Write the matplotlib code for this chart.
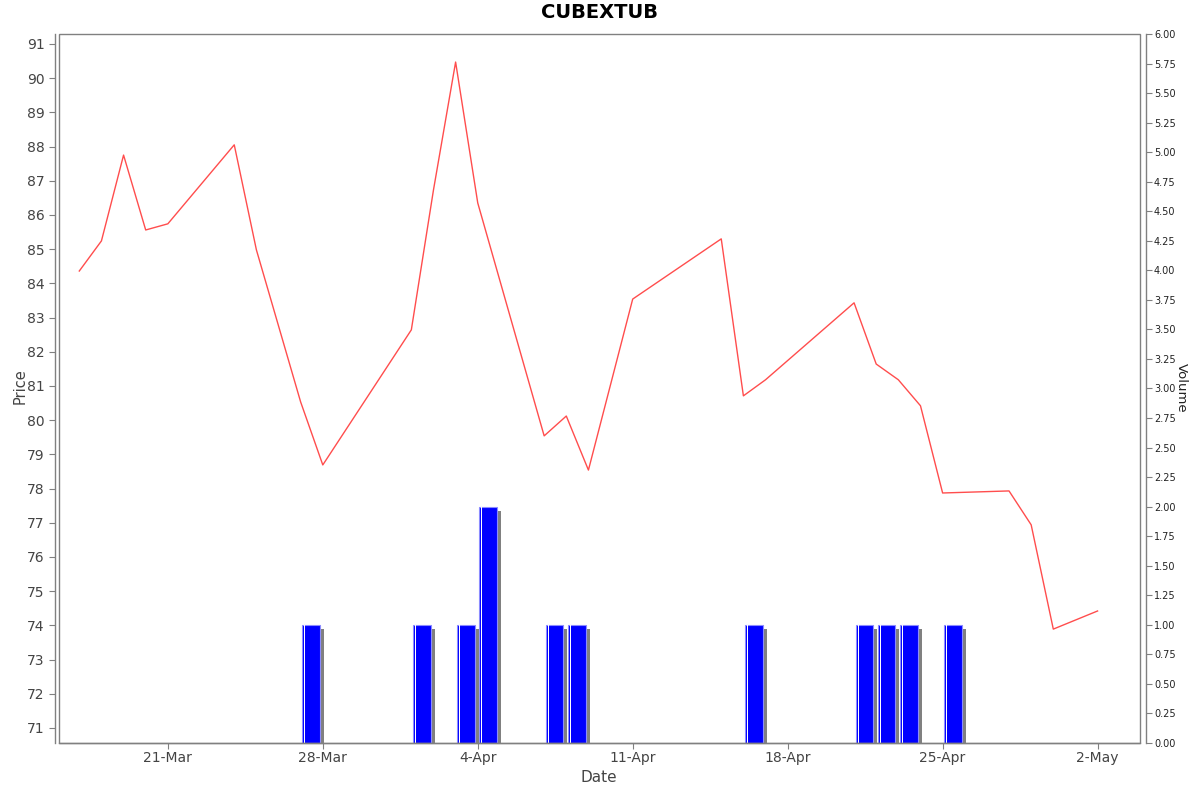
import datetime as dt
import matplotlib
matplotlib.use("Agg")
import matplotlib.pyplot as plt
import matplotlib.dates as mdates
from matplotlib.patches import Rectangle
from matplotlib.transforms import offset_copy
from matplotlib.ticker import FuncFormatter, MultipleLocator

# price series (daily close)
price_dates = ["2025-03-17", "2025-03-18", "2025-03-19", "2025-03-20", "2025-03-21",
               "2025-03-24", "2025-03-25", "2025-03-27", "2025-03-28", "2025-04-01",
               "2025-04-02", "2025-04-03", "2025-04-04", "2025-04-07", "2025-04-08",
               "2025-04-09", "2025-04-11", "2025-04-15", "2025-04-16", "2025-04-17",
               "2025-04-21", "2025-04-22", "2025-04-23", "2025-04-24", "2025-04-25",
               "2025-04-28", "2025-04-29", "2025-04-30", "2025-05-02"]
prices = [84.36, 85.24, 87.75, 85.56, 85.74,
          88.05, 84.98, 80.53, 78.69, 82.64,
          86.73, 90.47, 86.35, 79.54, 80.12,
          78.54, 83.54, 85.30, 80.71, 81.18,
          83.43, 81.64, 81.18, 80.42, 77.87,
          77.93, 76.94, 73.89, 74.42]

# volume series
vol_dates = ["2025-03-27", "2025-04-01", "2025-04-03", "2025-04-04", "2025-04-07",
             "2025-04-08", "2025-04-16", "2025-04-21", "2025-04-22", "2025-04-23",
             "2025-04-25"]
volumes = [1, 1, 1, 2, 1, 1, 1, 1, 1, 1, 1]

tick_dates = ["2025-03-21", "2025-03-28", "2025-04-04", "2025-04-11",
              "2025-04-18", "2025-04-25", "2025-05-02"]

title = "CUBEXTUB"

def to_num(lst):
    return [mdates.date2num(dt.datetime.strptime(s, "%Y-%m-%d")) for s in lst]

px = to_num(price_dates)
vx = to_num(vol_dates)
tx = to_num(tick_dates)

W, H = 1200, 792
fig = plt.figure(figsize=(W / 100, H / 100), dpi=100)
ax = fig.add_axes([59 / W, 1 - 743 / H, (1140 - 59) / W, (743 - 34) / H])
ax2 = ax.twinx()

axis_col = "#808080"
text_col = "#444444"

# volume bars with drop shadow
shadow_tr = offset_copy(ax2.transData, fig=fig, x=4, y=-4, units="dots")
bar_x = [d + 0.07 for d in vx]
ax2.bar(bar_x, volumes, width=0.8, align="edge", color="#808080",
        linewidth=0, transform=shadow_tr, zorder=1)
ax2.bar(bar_x, volumes, width=0.8, align="edge", color="#0000ff",
        edgecolor="#8c8cff", linewidth=0.8, zorder=2)
ax2.bar([d + 0.07 + 0.09 for d in vx], volumes, width=0.045, align="edge",
        color="white", linewidth=0, zorder=3)

# price line on top
ax.plot(px, prices, color="#ff4d4d", linewidth=1.0, zorder=5)
ax.set_zorder(ax2.get_zorder() + 1)
ax.patch.set_visible(False)

ax.set_xlim(mdates.date2num(dt.datetime(2025, 3, 16, 2)), mdates.date2num(dt.datetime(2025, 5, 3, 22)))
ax.set_ylim(70.56, 91.29)
ax2.set_ylim(0, 6.0)

ax.set_xticks(tx)
ax.xaxis.set_major_formatter(FuncFormatter(
    lambda v, p: "{}-{}".format(mdates.num2date(v).day, mdates.num2date(v).strftime("%b"))))
ax.yaxis.set_major_locator(MultipleLocator(1))
ax2.yaxis.set_major_locator(MultipleLocator(0.25))
ax2.yaxis.set_major_formatter(FuncFormatter(lambda v, p: "%.2f" % v))

ax.tick_params(axis="both", colors=axis_col, labelcolor=text_col, labelsize=10, length=4, width=0.8)
ax.tick_params(axis="x", pad=2)
ax2.tick_params(axis="y", colors=axis_col, labelcolor="#222222", labelsize=7, length=4, width=0.8, pad=2)

for s in ["top", "right"]:
    ax.spines[s].set_visible(False)
for s in ["top", "left", "bottom"]:
    ax2.spines[s].set_visible(False)
ax.spines["left"].set_position(("outward", 3))
ax2.spines["right"].set_position(("outward", 4))
for sp in [ax.spines["left"], ax.spines["bottom"], ax2.spines["right"]]:
    sp.set_color(axis_col)
    sp.set_linewidth(1.0)

ax.add_patch(Rectangle((0, 0), 1, 1, transform=ax.transAxes, fill=False,
                       edgecolor=axis_col, linewidth=1.0, clip_on=False, zorder=10))

fig.text(599 / W, 1 - 777 / H, "Date", ha="center", va="center", fontsize=11, color=text_col)
fig.text(20 / W, 1 - 386 / H, "Price", ha="center", va="center", fontsize=10.5,
         color=text_col, rotation=90)
fig.text(1181 / W, 1 - 388 / H, "Volume", ha="center", va="center", fontsize=9.5,
         color="#222222", rotation=-90)

fig.text(0.5, 1 - 12 / H, title, ha="center", va="center", fontsize=14, fontweight="bold")

fig.savefig("out.png", dpi=100)
